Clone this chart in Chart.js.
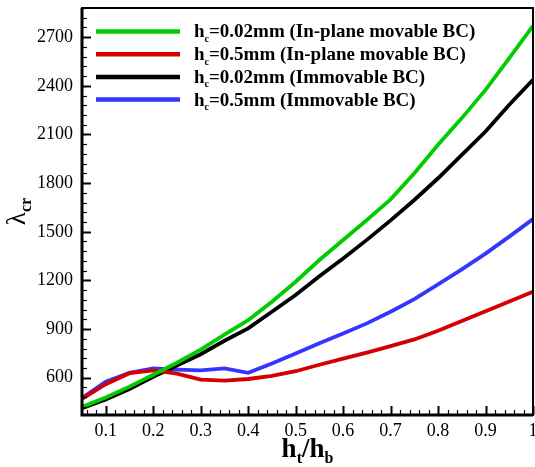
<!DOCTYPE html>
<html>
<head>
<meta charset="utf-8">
<script src="https://cdn.jsdelivr.net/npm/chart.js@4"></script>
<style>
  html, body { margin: 0; padding: 0; background: #fff; }
  #wrap { width: 535px; height: 467px; }
</style>
</head>
<body>
<div id="wrap"><canvas id="c" width="535" height="467"></canvas></div>
<script>
// ── DATA ──
const ratios = [0.05, 0.1, 0.15, 0.2, 0.25, 0.3, 0.35, 0.4, 0.45, 0.5,
                0.55, 0.6, 0.65, 0.7, 0.75, 0.8, 0.85, 0.9, 0.95, 1];
const green002Movable = [420, 478, 545, 618, 692, 773, 866, 955, 1069, 1192,
                         1326, 1449, 1573, 1700, 1861, 2036, 2201, 2375, 2571, 2770];
const red05Movable    = [470, 560, 628, 645, 625, 588, 582, 592, 612, 640,
                         680, 718, 755, 795, 836, 890, 950, 1010, 1070, 1130];
const black002Immov   = [412, 465, 530, 606, 675, 745, 828, 904, 1007, 1110,
                         1225, 1335, 1450, 1570, 1696, 1830, 1974, 2118, 2283, 2437];
const blue05Immov     = [474, 575, 630, 657, 650, 645, 657, 630, 688, 750,
                         812, 873, 935, 1007, 1085, 1175, 1268, 1365, 1470, 1578];

const seriesLabels = ['=0.02mm (In-plane movable BC)', '=0.5mm (In-plane movable BC)',
                      '=0.02mm (Immovable BC)', '=0.5mm (Immovable BC)'];
const xTicks = [0.1, 0.2, 0.3, 0.4, 0.5, 0.6, 0.7, 0.8, 0.9, 1];
const yTicks = [600, 900, 1200, 1500, 1800, 2100, 2400, 2700];

const SERIF = "'Liberation Serif','Times New Roman',serif";
const C_GREEN = '#00cc00';
const C_RED   = '#d40000';
const C_BLACK = '#000000';
const C_BLUE  = '#3535ff';

function pts(ys) { return ratios.map((x, i) => ({ x: x, y: ys[i] })); }

function ds(label, ys, color) {
    return {
        label: label,
        data: pts(ys),
        borderColor: color,
        backgroundColor: color,
        borderWidth: 3.8,
        pointRadius: 0,
        tension: 0,
        fill: false
    };
}

// text with a lowered small part: parts = [[text, font, dy], ...]
function drawParts(ctx, x, y, parts) {
    let cx = x;
    parts.forEach(p => {
        ctx.font = p[1];
        ctx.fillText(p[0], cx, y + p[2]);
        cx += ctx.measureText(p[0]).width;
    });
    return cx;
}

// ── FRAME, INWARD TICKS, LEGEND, AXIS TITLES ──
const decorPlugin = {
    id: 'decor',
    afterDraw(chart) {
        const ctx = chart.ctx;
        const a = chart.chartArea;
        const xs = chart.scales.x, ys = chart.scales.y;
        ctx.save();
        ctx.strokeStyle = '#000';

        // x ticks (major 0.1, minor 0.02) pointing up
        for (let i = 3; i <= 50; i++) {
            const v = i * 0.02;
            if (v < xs.min - 1e-9 || v > xs.max + 1e-9) continue;
            const px = Math.round(xs.getPixelForValue(v)) + 0.5;
            const major = i % 5 === 0;
            ctx.lineWidth = major ? 2 : 1.2;
            ctx.beginPath();
            ctx.moveTo(px, a.bottom);
            ctx.lineTo(px, a.bottom - (major ? 9 : 5));
            ctx.stroke();
        }
        // y ticks (major 300, minor 60) pointing right
        for (let v = 420; v <= 2880; v += 60) {
            if (v < ys.min || v > ys.max) continue;
            const py = Math.round(ys.getPixelForValue(v)) + 0.5;
            const major = v % 300 === 0;
            ctx.lineWidth = major ? 2 : 1.2;
            ctx.beginPath();
            ctx.moveTo(a.left, py);
            ctx.lineTo(a.left + (major ? 9 : 5), py);
            ctx.stroke();
        }

        // frame
        ctx.lineWidth = 2;
        ctx.strokeRect(a.left, a.top, a.right - a.left, a.bottom - a.top);
        ctx.lineWidth = 3;
        ctx.beginPath();
        ctx.moveTo(a.left, a.top);
        ctx.lineTo(a.left, a.bottom);
        ctx.lineTo(a.right, a.bottom);
        ctx.stroke();

        // legend
        ctx.textBaseline = 'middle';
        ctx.fillStyle = '#000';
        chart.data.datasets.forEach((d, i) => {
            const y = 31.5 + i * 22.7;
            ctx.strokeStyle = d.borderColor;
            ctx.lineWidth = 4.5;
            ctx.beginPath();
            ctx.moveTo(96, y);
            ctx.lineTo(180, y);
            ctx.stroke();
            drawParts(ctx, 194, y + 1, [
                ['h', 'bold 19px ' + SERIF, 0],
                ['c', 'bold 10px ' + SERIF, 7],
                [d.label, 'bold 19px ' + SERIF, 0]
            ]);
        });

        // x title: h_t / h_b
        ctx.textBaseline = 'alphabetic';
        const xParts = [
            ['h', 'bold 27px ' + SERIF, 0],
            ['t', 'bold 16px ' + SERIF, 6],
            ['/h', 'bold 27px ' + SERIF, 0],
            ['b', 'bold 16px ' + SERIF, 6]
        ];
        let w = 0;
        xParts.forEach(p => { ctx.font = p[1]; w += ctx.measureText(p[0]).width; });
        drawParts(ctx, (a.left + a.right) / 2 - w / 2, 457, xParts);

        // y title: lambda_cr (rotated)
        ctx.translate(25, (a.top + a.bottom) / 2);
        ctx.rotate(-Math.PI / 2);
        const yParts = [
            ['\u03bb', '27px ' + SERIF, 0],
            ['cr', 'bold 16px ' + SERIF, 6]
        ];
        w = 0;
        yParts.forEach(p => { ctx.font = p[1]; w += ctx.measureText(p[0]).width; });
        drawParts(ctx, -w / 2, 0, yParts);

        ctx.restore();
    }
};

new Chart(document.getElementById('c'), {
    type: 'line',
    data: {
        datasets: [
            ds(seriesLabels[0], green002Movable, C_GREEN),
            ds(seriesLabels[1], red05Movable, C_RED),
            ds(seriesLabels[2], black002Immov, C_BLACK),
            ds(seriesLabels[3], blue05Immov, C_BLUE)
        ]
    },
    options: {
        responsive: false,
        animation: false,
        layout: { padding: { top: 8, right: 2, left: 0, bottom: 0 } },
        plugins: {
            legend: { display: false },
            title: { display: false },
            tooltip: { enabled: false }
        },
        scales: {
            x: {
                type: 'linear',
                min: 0.05,
                max: 1,
                grid: { display: false, drawTicks: false },
                border: { display: false },
                afterBuildTicks: s => { s.ticks = xTicks.map(v => ({ value: v })); },
                afterFit: s => { s.height = 52; s.paddingLeft = 0; s.paddingRight = 0; },
                ticks: {
                    color: '#000',
                    padding: 5,
                    maxRotation: 0,
                    autoSkip: false,
                    font: { family: SERIF, size: 18 },
                    callback: v => String(v)
                }
            },
            y: {
                type: 'linear',
                min: 370,
                max: 2880,
                grid: { display: false, drawTicks: false },
                border: { display: false },
                afterBuildTicks: s => { s.ticks = yTicks.map(v => ({ value: v })); },
                afterFit: s => { s.width = 82; s.paddingTop = 0; s.paddingBottom = 0; },
                ticks: {
                    color: '#000',
                    padding: 9,
                    autoSkip: false,
                    font: { family: SERIF, size: 18 },
                    callback: v => String(v)
                }
            }
        }
    },
    plugins: [decorPlugin]
});
</script>
</body>
</html>
